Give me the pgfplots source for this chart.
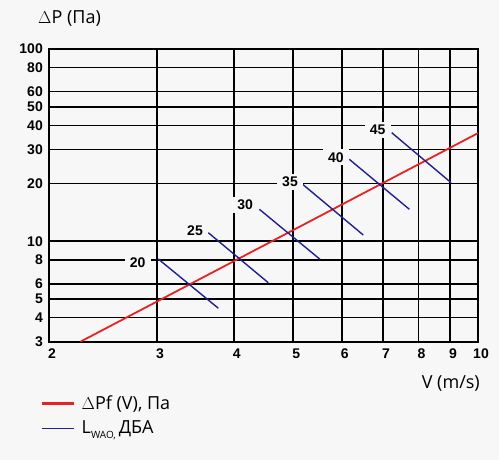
\documentclass[border=0pt]{standalone}
\usepackage{pgfplots}
\pgfplotsset{compat=1.18}
\usepackage{fontspec}
\setmainfont{Liberation Sans}
\newfontfamily\osans{Open Sans}
\newfontfamily\bsans{Liberation Sans Bold}
\definecolor{bg}{HTML}{F7F7F7}
\definecolor{lred}{HTML}{E82222}
\definecolor{lblue}{HTML}{20208F}
\begin{document}
\begin{tikzpicture}
\path[use as bounding box, fill=bg] (0,0) rectangle (499pt,460pt);
\begin{axis}[
  at={(49pt,118.3pt)}, anchor=south west,
  scale only axis, width=429pt, height=292.7pt,
  xmode=log, ymode=log,
  xmin=2, xmax=10, ymin=3, ymax=100,
  xtick={2,3,4,5,6,7,8,9,10},
  xticklabels={2,3,4,5,6,7,8,9,10},
  ytick={3,4,5,6,8,10,20,30,40,50,60,80,100},
  yticklabels={3,4,5,6,8,10,20,30,40,50,60,80,100},
  /pgf/number format/assume math mode=true,
  major tick length=0pt,
  grid=major,
  major grid style={black, line width=1.5pt},
  axis line style={black, line width=2pt},
  ticklabel style={font=\bsans\fontsize{14}{14}\selectfont},
  yticklabel style={inner sep=0pt, xshift=-6pt},
  xticklabel style={inner sep=0pt, yshift=-6.5pt, xshift=3pt},
  xlabel={\osans V (m/s)},
  ylabel={\osans $\Delta$P (Па)},
  label style={font=\fontsize{18}{18}\selectfont},
  xlabel style={at={(axis description cs:1.0047,-0.142)}, anchor=east, inner sep=0pt},
  ylabel style={at={(axis description cs:-0.0256,1.105)}, rotate=-90, anchor=west, inner sep=0pt},
  legend style={at={(axis description cs:-0.021,-0.177)}, anchor=north west,
    draw=none, fill=none, font=\osans\fontsize{18}{18}\selectfont,
    legend cell align=left, row sep=6pt, column sep=4pt, inner sep=0pt},
  legend image code/.code={\draw[#1] (0pt,0pt) -- (32pt,0pt);},
]
\addlegendimage{lred, line width=3.5pt}
\addlegendentry{$\Delta$Pf (V), Па}
\addlegendimage{lblue, line width=1.3pt}
\addlegendentry{L\raisebox{-5pt}{\fontsize{10}{10}\selectfont WAO,}\,ДБА}

\addplot[lred, line width=1.8pt, forget plot] coordinates {(2.25,3) (10,36.5)};

\addplot[lblue, line width=1.4pt, forget plot] coordinates {(3.013,8.08) (3.775,4.48)};
\addplot[lblue, line width=1.4pt, forget plot] coordinates {(3.636,11.07) (4.553,6.08)};
\addplot[lblue, line width=1.4pt, forget plot] coordinates {(4.403,14.66) (5.528,8.05)};
\addplot[lblue, line width=1.4pt, forget plot] coordinates {(5.18,19.77) (6.503,10.77)};
\addplot[lblue, line width=1.4pt, forget plot] coordinates {(6.17,26.68) (7.73,14.66)};
\addplot[lblue, line width=1.4pt, forget plot] coordinates {(7.235,36.68) (9.04,20.16)};

\begin{scope}[every node/.style={fill=bg, inner xsep=5pt, inner ysep=3pt, font=\bsans\fontsize{14}{14}\selectfont}]
\node at (axis cs:2.79,7.77) {20};
\node at (axis cs:3.459,11.3) {25};
\node at (axis cs:4.173,15.43) {30};
\node at (axis cs:4.94,20.4) {35};
\node at (axis cs:5.87,27.3) {40};
\node at (axis cs:6.865,37.9) {45};
\end{scope}
\end{axis}
\end{tikzpicture}
\end{document}
